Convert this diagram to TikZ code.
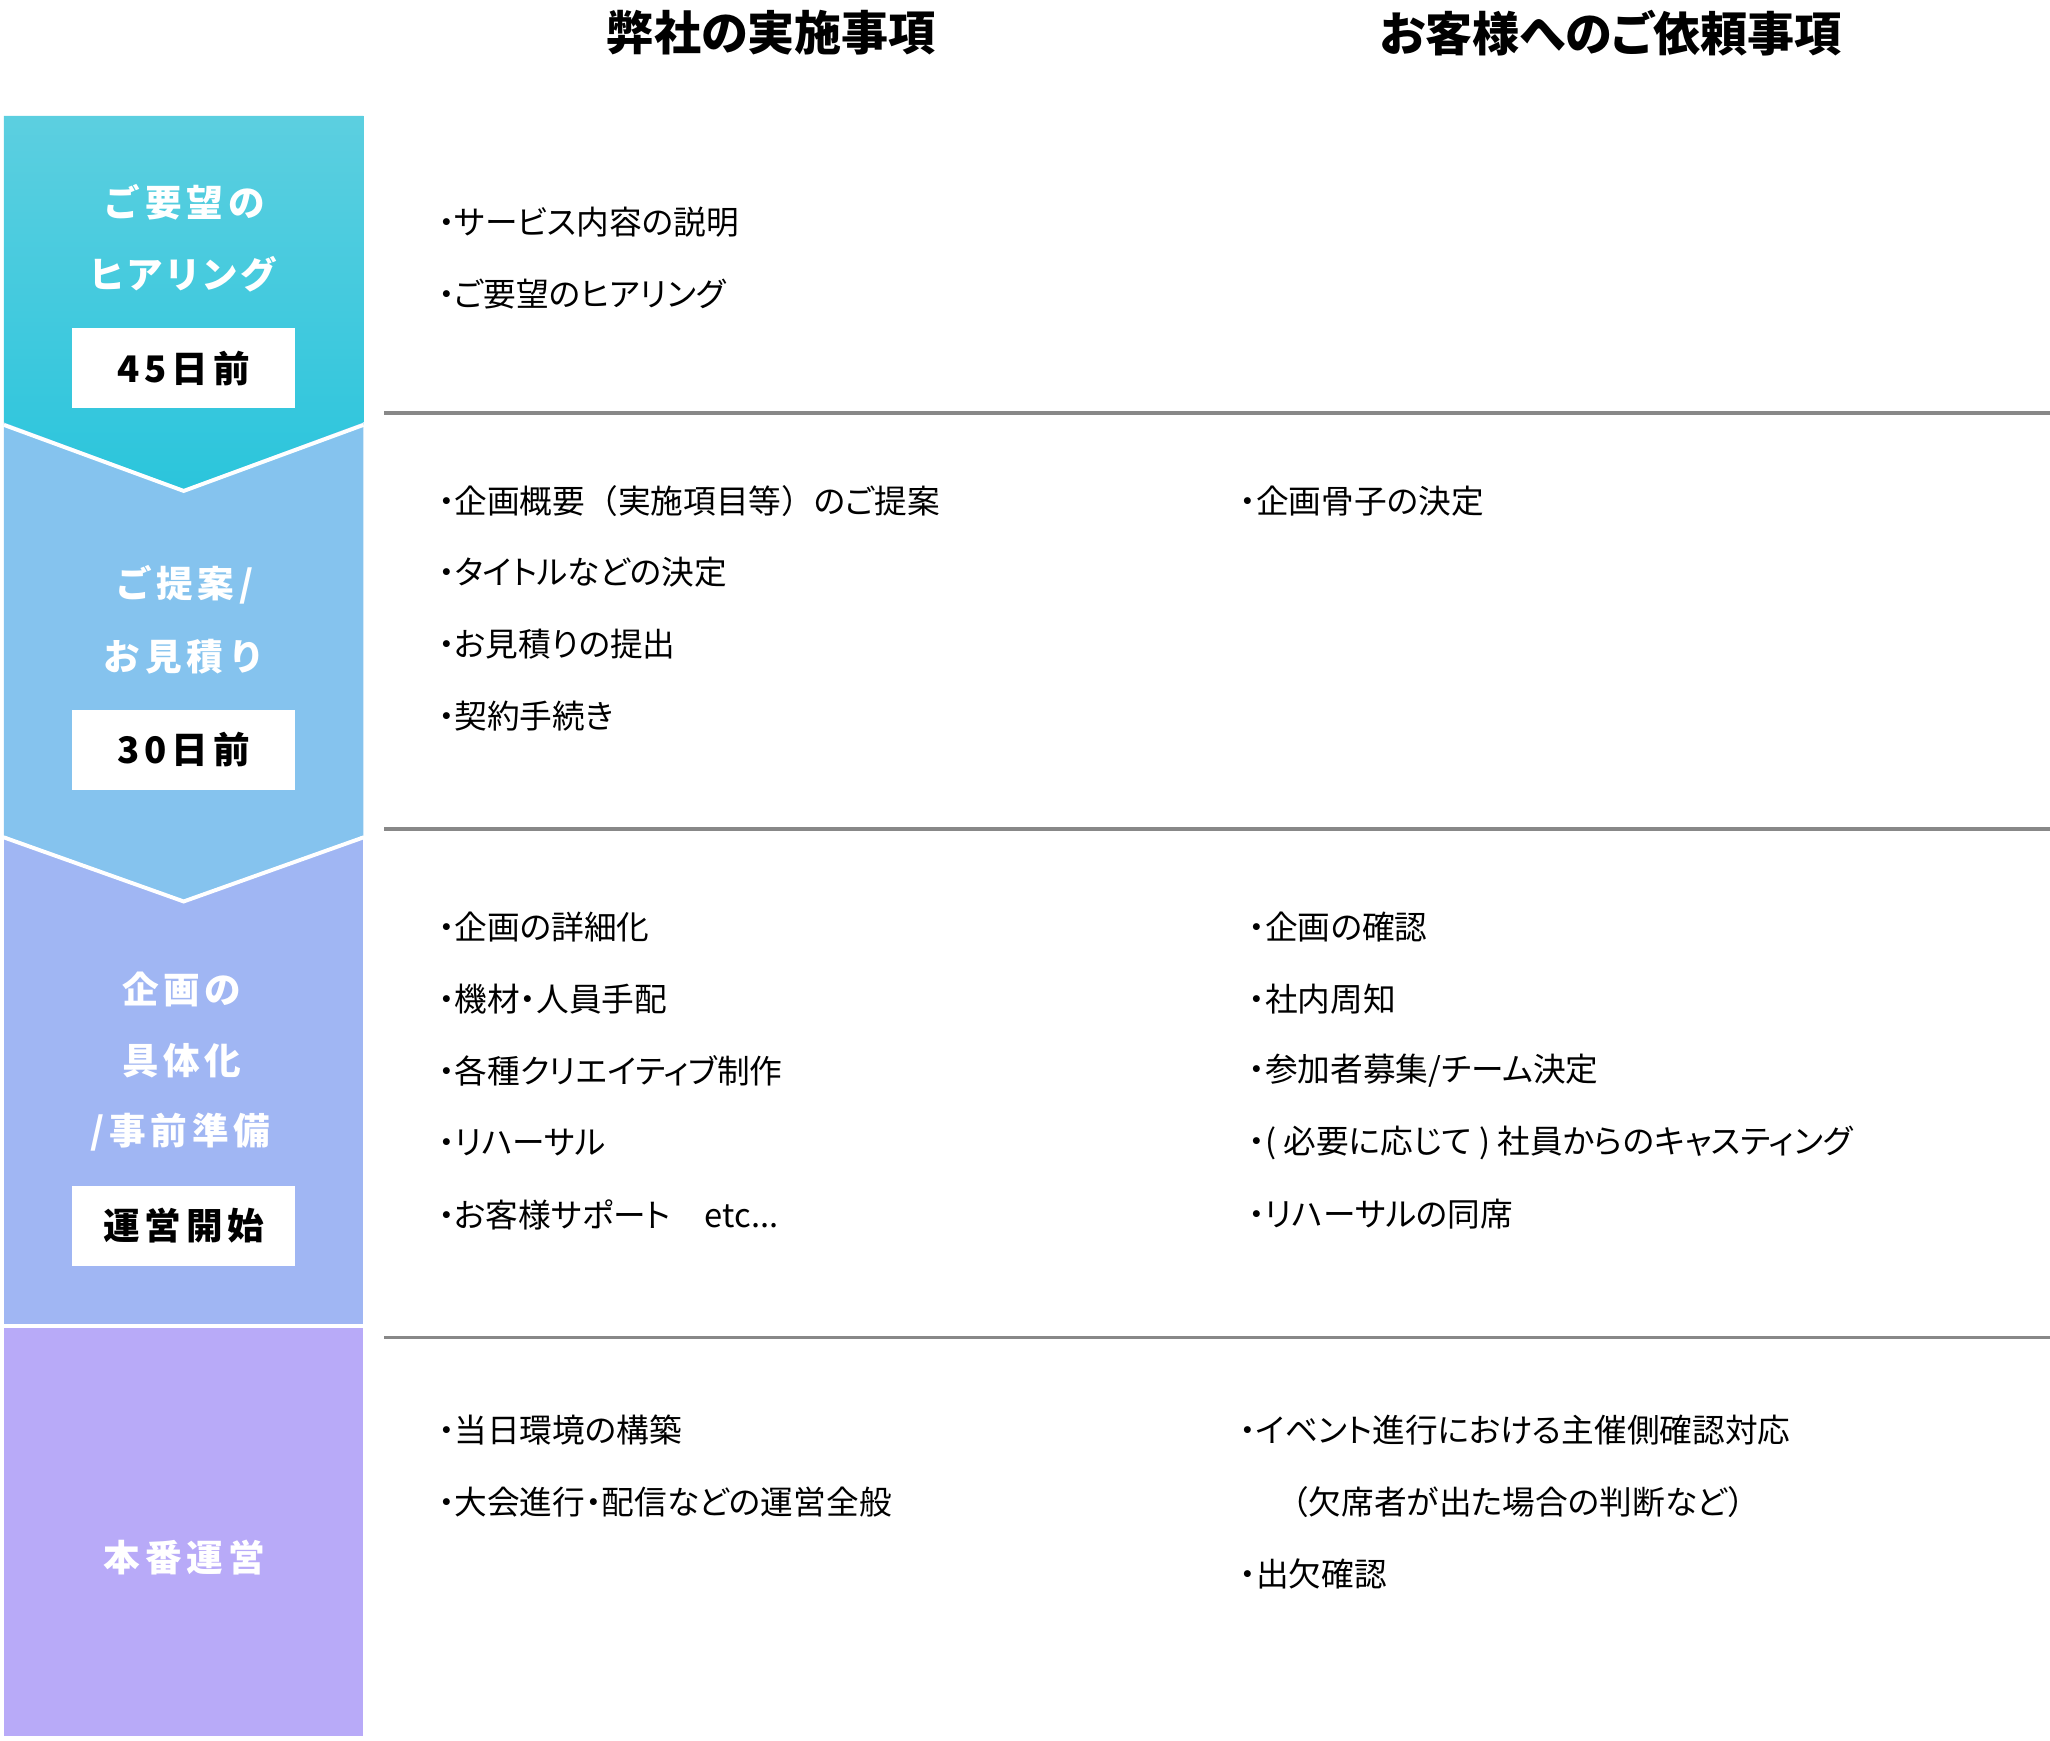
\documentclass[tikz,border=0pt]{standalone}
\usepackage{fontspec}
\newfontfamily\jp[RawFeature=+palt]{Noto Sans CJK JP}
\newfontfamily\jpfull{Noto Sans CJK JP}
\newfontfamily\jpls[LetterSpace=13]{Noto Sans CJK JP}
\newfontfamily\jplsp[LetterSpace=13,RawFeature=+palt]{Noto Sans CJK JP}
\newcommand{\fpl}{{\jpfull （}}
\newcommand{\fpr}{{\jpfull ）}}
\definecolor{cyanTop}{HTML}{5CCFE0}
\definecolor{cyanBot}{HTML}{2BC5DC}
\definecolor{secTwo}{HTML}{85C3EE}
\definecolor{secThree}{HTML}{A0B6F3}
\definecolor{secFour}{HTML}{B8AAF8}
\definecolor{sepGrey}{HTML}{888888}
\tikzset{
  itemtext/.style={anchor=west, inner sep=0pt, text=black, font=\jp\fontsize{25}{29}\selectfont},
  headtext/.style={inner sep=0pt, text=black, font=\jp\bfseries\fontsize{36}{40}\selectfont},
  labtext/.style={inner sep=0pt, text=white, font=\jpls\bfseries\fontsize{28}{31}\selectfont},
  labtextp/.style={inner sep=0pt, text=white, font=\jplsp\bfseries\fontsize{28}{31}\selectfont},
  datebox/.style={fill=white, inner sep=0pt, minimum width=171pt, minimum height=61pt, text=black, font=\jpls\bfseries\fontsize{28}{31}\selectfont},
  sepline/.style={draw=sepGrey, line width=3pt},
  chevline/.style={draw=white, line width=3pt, line join=miter}
}
\begin{document}
\begin{tikzpicture}[x=1pt,y=-1pt]
\useasboundingbox (0,0) rectangle (1568,1331);
% left column shapes
\fill[secFour] (3,1016) rectangle (278,1328);
\fill[secThree] (3,640) rectangle (278,1013);
\fill[secTwo] (3,323) -- (278,323) -- (278,639) -- (140.5,688) -- (3,639) -- cycle;
\shade[top color=cyanTop, bottom color=cyanBot] (3,88.7) -- (278,88.7) -- (278,323) -- (140.5,374) -- (3,323) -- cycle;
\draw[chevline] (3,325) -- (140.5,375.5) -- (278,325);
\draw[chevline] (3,640.5) -- (140.5,689.5) -- (278,640.5);
% separators
\draw[sepline] (294,316) -- (1568,316);
\draw[sepline] (294,634) -- (1568,634);
\draw[sepline] (294,1023) -- (1568,1023);
% headers
\node[headtext] (h1) at (590,25) {弊社の実施事項};
\node[headtext] (h2) at (1232,25) {お客様へのご依頼事項};
% left labels
\node[labtext] (l1a) at (141,155) {ご要望の};
\node[labtextp] (l1b) at (140,210) {ヒアリング};
\node[datebox] (d1) at (140.5,281.5) {45日前};
\node[labtext] (l2a) at (141,447) {ご提案/};
\node[labtext] (l2b) at (141,502) {お見積り};
\node[datebox] (d2) at (140.5,573.5) {30日前};
\node[labtext] (l3a) at (139,757) {企画の};
\node[labtext] (l3b) at (139,811) {具体化};
\node[labtext] (l3c) at (138,866) {/事前準備};
\node[datebox] (d3) at (140.5,937.5) {運営開始};
\node[labtext] (l4a) at (141,1191) {本番運営};
% section 1
\node[itemtext] (a1) at (335,170) {・サービス内容の説明};
\node[itemtext] (a2) at (335,225) {・ご要望のヒアリング};
% section 2
\node[itemtext] (b1) at (335,383) {・企画概要\fpl 実施項目等\fpr のご提案};
\node[itemtext] (b2) at (335,438) {・タイトルなどの決定};
\node[itemtext] (b3) at (335,493) {・お見積りの提出};
\node[itemtext] (b4) at (335,548) {・契約手続き};
\node[itemtext] (b5) at (948,383) {・企画骨子の決定};
% section 3
\node[itemtext] (c1) at (335,709) {・企画の詳細化};
\node[itemtext] (c2) at (335,764) {・機材・人員手配};
\node[itemtext] (c3) at (335,819) {・各種クリエイティブ制作};
\node[itemtext] (c4) at (335,874) {・リハーサル};
\node[itemtext] (c5) at (335,929) {・お客様サポート\hspace{26pt}etc...};
\node[itemtext] (c6) at (955,709) {・企画の確認};
\node[itemtext] (c7) at (955,764) {・社内周知};
\node[itemtext] (c8) at (955,819) {・参加者募集/チーム決定};
\node[itemtext] (c9) at (955,874) {・( 必要に応じて ) 社員からのキャスティング};
\node[itemtext] (c10) at (955,929) {・リハーサルの同席};
% section 4
\node[itemtext] (e1) at (335,1094) {・当日環境の構築};
\node[itemtext] (e2) at (335,1149) {・大会進行・配信などの運営全般};
\node[itemtext] (e3) at (948,1094) {・イベント進行における主催側確認対応};
\node[itemtext] (e4) at (976,1149) {\fpl 欠席者が出た場合の判断など\fpr};
\node[itemtext] (e5) at (948,1204) {・出欠確認};
\end{tikzpicture}
\end{document}
